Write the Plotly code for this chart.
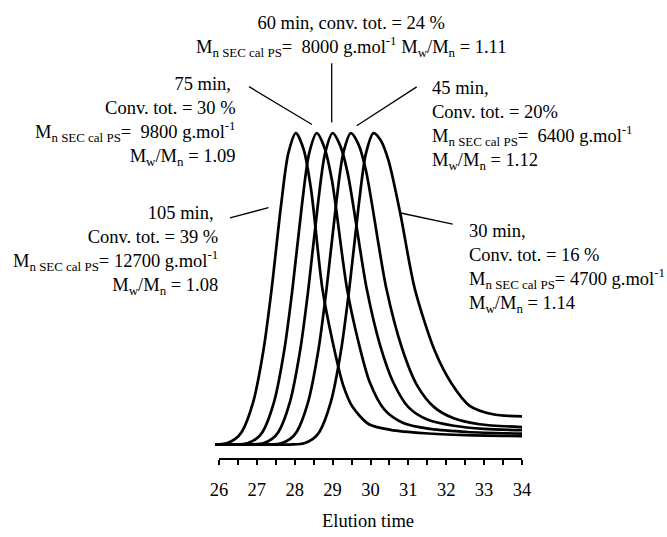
import plotly.graph_objects as go

# ---------------- data ----------------
# Elution time (x) and normalised detector response (y) for each sample
t_105 = [25.90, 26.20, 26.43, 26.60, 26.90, 27.17, 27.39, 27.64, 27.83, 28.03,
         28.23, 28.43, 28.73, 29.00, 29.28, 29.53, 29.96, 30.53, 31.43, 32.53, 34.00]
h_105 = [0.000, 0.004, 0.018, 0.040, 0.135, 0.300, 0.500, 0.770, 0.935, 1.000,
         0.950, 0.820, 0.500, 0.330, 0.190, 0.120, 0.065, 0.047, 0.036, 0.030, 0.027]

t_75 = [25.90, 26.45, 26.75, 26.98, 27.15, 27.45, 27.72, 27.94, 28.19, 28.38, 28.58,
        28.78, 28.98, 29.38, 29.68, 29.98, 30.38, 30.88, 31.58, 32.58, 34.00]
h_75 = [0.000, 0.000, 0.004, 0.018, 0.040, 0.135, 0.300, 0.500, 0.770, 0.935, 1.000,
        0.955, 0.850, 0.500, 0.330, 0.200, 0.110, 0.068, 0.050, 0.040, 0.035]

t_60 = [25.90, 26.87, 27.17, 27.40, 27.57, 27.87, 28.14, 28.36, 28.61, 28.80, 29.00,
        29.20, 29.40, 29.90, 30.25, 30.60, 31.00, 31.50, 32.20, 33.00, 34.00]
h_60 = [0.000, 0.000, 0.004, 0.018, 0.040, 0.135, 0.300, 0.500, 0.770, 0.935, 1.000,
        0.960, 0.870, 0.500, 0.320, 0.200, 0.120, 0.080, 0.060, 0.050, 0.046]

t_45 = [25.90, 27.35, 27.65, 27.88, 28.05, 28.35, 28.62, 28.84, 29.09, 29.28, 29.48,
        29.68, 29.88, 30.42, 30.83, 31.23, 31.68, 32.18, 32.88, 34.00]
h_45 = [0.000, 0.000, 0.004, 0.018, 0.040, 0.135, 0.300, 0.500, 0.770, 0.935, 1.000,
        0.965, 0.880, 0.500, 0.310, 0.190, 0.120, 0.085, 0.065, 0.056]

t_30 = [25.90, 27.95, 28.25, 28.48, 28.65, 28.95, 29.22, 29.44, 29.69, 29.88, 30.08,
        30.28, 30.48, 30.79, 31.17, 31.70, 32.14, 32.62, 33.23, 34.00]
h_30 = [0.000, 0.000, 0.004, 0.018, 0.040, 0.135, 0.300, 0.500, 0.770, 0.935, 1.000,
        0.975, 0.910, 0.740, 0.500, 0.300, 0.196, 0.124, 0.097, 0.090]

x_ticks = [26, 27, 28, 29, 30, 31, 32, 33, 34]
x_title = "Elution time"

label_105 = ("105 min,\u00a0<br>Conv. tot. = 39 %<br>"
             "M<sub>n SEC cal PS</sub>= 12700 g.mol<sup>-1</sup><br>"
             "M<sub>w</sub>/M<sub>n</sub> = 1.08")
label_75 = ("75 min,\u00a0<br>Conv. tot. = 30 %<br>"
            "M<sub>n SEC cal PS</sub>=\u00a0 9800 g.mol<sup>-1</sup><br>"
            "M<sub>w</sub>/M<sub>n</sub> = 1.09")
label_60 = ("60 min, conv. tot. = 24 %<br>"
            "M<sub>n SEC cal PS</sub>=\u00a0 8000 g.mol<sup>-1</sup> "
            "M<sub>w</sub>/M<sub>n</sub> = 1.11")
label_45 = ("45 min,<br>Conv. tot. = 20%<br>"
            "M<sub>n SEC cal PS</sub>=\u00a0 6400 g.mol<sup>-1</sup><br>"
            "M<sub>w</sub>/M<sub>n</sub> = 1.12")
label_30 = ("30 min,<br>Conv. tot. = 16 %<br>"
            "M<sub>n SEC cal PS</sub>= 4700 g.mol<sup>-1</sup><br>"
            "M<sub>w</sub>/M<sub>n</sub> = 1.14")

# ---------------- figure ----------------
FONT = "Liberation Serif, Times New Roman, serif"
FS = 18.5
fig = go.Figure()

for name, tx, hy in [("105 min", t_105, h_105), ("75 min", t_75, h_75),
                     ("60 min", t_60, h_60), ("45 min", t_45, h_45),
                     ("30 min", t_30, h_30)]:
    fig.add_trace(go.Scatter(x=tx, y=hy, mode="lines", name=name,
                             line=dict(color="black", width=2.7, shape="spline",
                                       smoothing=0.8),
                             showlegend=False, hoverinfo="skip"))

# axis baseline drawn only between 26 and 34
fig.add_shape(type="line", xref="x", yref="paper", x0=x_ticks[0], x1=x_ticks[-1],
              y0=0, y1=0, line=dict(color="black", width=2))

# leader lines
leaders = [
    (26.792, 1.1495, 28.455, 1.028),   # 75 min
    (28.976, 1.2243, 28.976, 1.0343),  # 60 min
    (31.220, 1.1486, 29.636, 1.024),   # 45 min
    (26.290, 0.728, 27.307, 0.7607),   # 105 min
    (30.797, 0.7436, 32.170, 0.708),   # 30 min
]
for x0, y0, x1, y1 in leaders:
    fig.add_shape(type="line", xref="x", yref="y", x0=x0, y0=y0, x1=x1, y1=y1,
                  line=dict(color="black", width=1.3))

annots = [
    (label_60, 29.485, 1.312, "center", "center"),
    (label_75, 26.50, 1.039, "right", "right"),
    (label_105, 26.026, 0.624, "right", "right"),
    (label_45, 31.571, 1.025, "left", "left"),
    (label_30, 32.548, 0.566, "left", "left"),
]
for txt, x, y, xa, al in annots:
    fig.add_annotation(text=txt, x=x, y=y, xref="x", yref="y", showarrow=False,
                       xanchor=xa, yanchor="middle", align=al,
                       font=dict(family=FONT, size=FS, color="black"))

fig.update_layout(
    width=667, height=537,
    margin=dict(l=214, r=145, t=10, b=64),
    paper_bgcolor="white", plot_bgcolor="white",
    font=dict(family=FONT, size=FS, color="black"),
    xaxis=dict(range=[25.868, 34.0], tickvals=x_ticks, ticktext=[str(v) for v in x_ticks],
               ticks="outside", ticklen=5, tickwidth=2, tickcolor="black",
               minor=dict(dtick=0.5, tick0=26, ticks="outside", ticklen=5,
                          tickwidth=2, tickcolor="black", showgrid=False),
               showline=False, showgrid=False, zeroline=False,
               ticklabelstandoff=9,
               tickfont=dict(family=FONT, size=FS, color="black"),
               title=dict(text=x_title, standoff=14,
                          font=dict(family=FONT, size=FS, color="black"))),
    yaxis=dict(range=[-0.0467, 1.3957], visible=False, showgrid=False, zeroline=False),
)

fig.write_html("out.html",
               config={"displayModeBar": False},
               post_script="document.body.style.margin='0';"
                           "document.body.style.overflow='hidden';")
